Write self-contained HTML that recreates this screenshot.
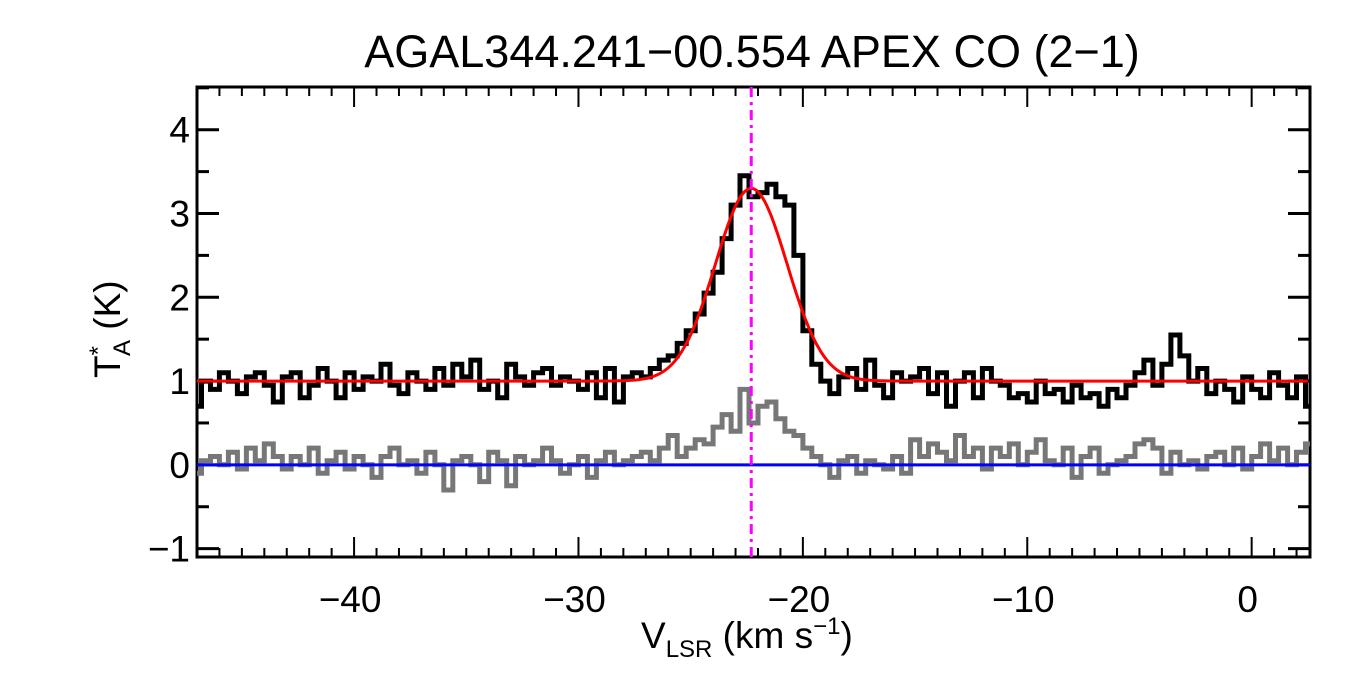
<!DOCTYPE html>
<html><head><meta charset="utf-8"><style>
html,body{margin:0;padding:0;background:#fff;}
svg{display:block;font-family:"Liberation Sans",sans-serif;}
</style></head><body>
<svg id="chart" width="1350" height="675" xmlns="http://www.w3.org/2000/svg">
<text x="752" y="67" font-size="45" text-anchor="middle">AGAL344.241−00.554  APEX CO (2−1)</text>
<g id="axes"></g>
<g id="marks"></g>
<text x="641" y="648" font-size="37">V<tspan font-size="24" dy="9">LSR</tspan><tspan dy="-9"> (km s</tspan><tspan font-size="24" dy="-14">−1</tspan><tspan dy="14">)</tspan></text>
<text transform="translate(120,378) rotate(-90)" font-size="37">T<tspan font-size="24" dy="-14">*</tspan><tspan font-size="24" dx="-10" dy="24">A</tspan><tspan dy="-10"> (K)</tspan></text>
</svg>
<script>
const v0 = -47, dv = 0.4;
const coSpectrum = [0.7,1.0,0.9,1.1,1.0,0.85,1.05,1.1,0.95,0.75,
1.05,1.1,0.8,0.95,1.15,1.0,0.8,1.1,0.9,1.05,
1.0,1.2,0.95,0.85,1.1,1.0,0.9,1.15,0.95,1.2,
1.05,1.25,0.9,1.0,0.8,1.2,1.05,0.95,1.1,1.15,
0.95,1.05,1.0,0.9,1.1,0.8,1.15,0.75,1.05,1.1,
1.05,1.15,1.25,1.3,1.45,1.6,1.8,2.05,2.3,2.7,
3.1,3.45,3.2,3.25,3.35,3.2,3.1,2.5,1.6,1.2,
1.0,0.85,1.05,1.15,0.9,1.25,0.95,0.8,1.1,1.0,
1.05,1.15,0.85,1.1,0.7,1.0,1.1,0.8,1.15,1.0,
0.95,0.8,0.85,0.75,1.0,0.85,0.9,0.75,0.95,0.8,
0.85,0.7,0.9,0.8,0.95,1.1,1.25,0.95,1.2,1.55,
1.3,1.0,1.15,0.85,1.0,0.9,0.75,1.05,0.9,0.8,
1.1,0.95,0.8,1.05,0.7];
const residual = [-0.1,0.05,0.1,0.0,0.15,-0.05,0.2,0.05,0.25,0.1,
-0.05,0.1,0.0,0.2,-0.1,0.05,0.15,-0.05,0.1,0.0,
-0.15,0.1,0.2,0.0,0.05,-0.1,0.15,0.0,-0.3,0.05,
0.1,0.0,-0.2,0.15,0.05,-0.25,0.1,0.0,0.05,0.2,
0.05,-0.1,0.0,0.1,-0.15,0.05,0.15,0.0,0.05,0.1,
0.15,0.05,0.2,0.35,0.1,0.2,0.3,0.25,0.45,0.6,
0.4,0.9,0.5,0.7,0.75,0.55,0.4,0.35,0.2,0.1,
0.0,-0.15,0.05,0.1,-0.1,0.05,0.0,-0.05,0.1,-0.1,
0.3,0.1,0.25,0.15,0.05,0.35,0.1,0.2,-0.05,0.2,
0.1,0.25,0.0,0.15,0.3,0.05,0.0,0.2,-0.15,0.1,
0.2,-0.1,0.0,0.05,0.1,0.25,0.3,0.2,-0.1,0.15,
0.0,0.05,-0.05,0.1,0.15,0.0,0.2,-0.05,0.1,0.25,
0.05,0.2,0.0,0.15,0.25];
const fitParams = [1.0, 2.3, -22.3, 1.6]; // baseline, amplitude, center, sigma
const vCenter = -22.3;
const xTicks = [-40,-30,-20,-10,0];
const yTicks = [-1,0,1,2,3,4];

const L=197,R=1310,T=87,B=557, xmin=-47, xmax=2.6, ymin=-1.1, ymax=4.51;
const sx=v=>L+(v-xmin)/(xmax-xmin)*(R-L);
const sy=y=>B-(y-ymin)/(ymax-ymin)*(B-T);
const NS="http://www.w3.org/2000/svg";
const axes=document.getElementById('axes'), marks=document.getElementById('marks');
function mk(tag,attrs,parent){const e=document.createElementNS(NS,tag);for(const k in attrs)e.setAttribute(k,attrs[k]);parent.appendChild(e);return e;}

function stepPath(arr){let d='';arr.forEach((y,i)=>{const x1=sx(v0+dv*i-dv/2),x2=sx(v0+dv*i+dv/2);const px1=Math.max(L,x1),px2=Math.min(R,x2);d+=(i?'L':'M')+px1.toFixed(1)+','+sy(y).toFixed(1)+'L'+px2.toFixed(1)+','+sy(y).toFixed(1);});return d;}

const gp=mk('path',{d:stepPath(residual),fill:'none',stroke:'#777','stroke-width':5},marks);


const bp=mk('path',{d:stepPath(coSpectrum),fill:'none',stroke:'#000','stroke-width':5},marks);


const zl=mk('line',{x1:L,x2:R,y1:sy(0),y2:sy(0),stroke:'#0000ff','stroke-width':3},marks);


let fd='';for(let v=xmin;v<=xmax;v+=0.1){const y=fitParams[0]+fitParams[1]*Math.exp(-0.5*Math.pow((v-fitParams[2])/fitParams[3],2));fd+=(fd?'L':'M')+sx(v).toFixed(1)+','+sy(y).toFixed(1);}
const fp=mk('path',{d:fd,fill:'none',stroke:'#ff0000','stroke-width':3},marks);


const vl=mk('line',{x1:sx(vCenter),x2:sx(vCenter),y1:T,y2:B,stroke:'#ff00ff','stroke-width':3,'stroke-dasharray':'10,5,3,5'},marks);



const fr=mk('rect',{x:L,y:T,width:R-L,height:B-T,fill:'none',stroke:'#000','stroke-width':3},axes);


for(let v=-47;v<=2;v++){const x=sx(v);const major=xTicks.includes(v);const len=major?20:9;
 mk('line',{x1:x,x2:x,y1:B,y2:B-len,stroke:'#000','stroke-width':2},axes);
 mk('line',{x1:x,x2:x,y1:T,y2:T+len,stroke:'#000','stroke-width':2},axes);}
xTicks.forEach(v=>{const t=mk('text',{x:sx(v)-4,y:612,'font-size':37,'text-anchor':'middle'},axes);t.textContent=(v<0?'−':'')+Math.abs(v);
 
 });
for(let y=-1;y<=4.5;y+=0.5){const py=sy(y);const major=Number.isInteger(y);const len=major?22:12;
 mk('line',{x1:L,x2:L+len,y1:py,y2:py,stroke:'#000','stroke-width':3},axes);
 mk('line',{x1:R,x2:R-len,y1:py,y2:py,stroke:'#000','stroke-width':3},axes);}
yTicks.forEach(y=>{const t=mk('text',{x:190,y:sy(y)+13,'font-size':37,'text-anchor':'end'},axes);t.textContent=(y<0?'−':'')+Math.abs(y);
 
 });
</script>
</body></html>
